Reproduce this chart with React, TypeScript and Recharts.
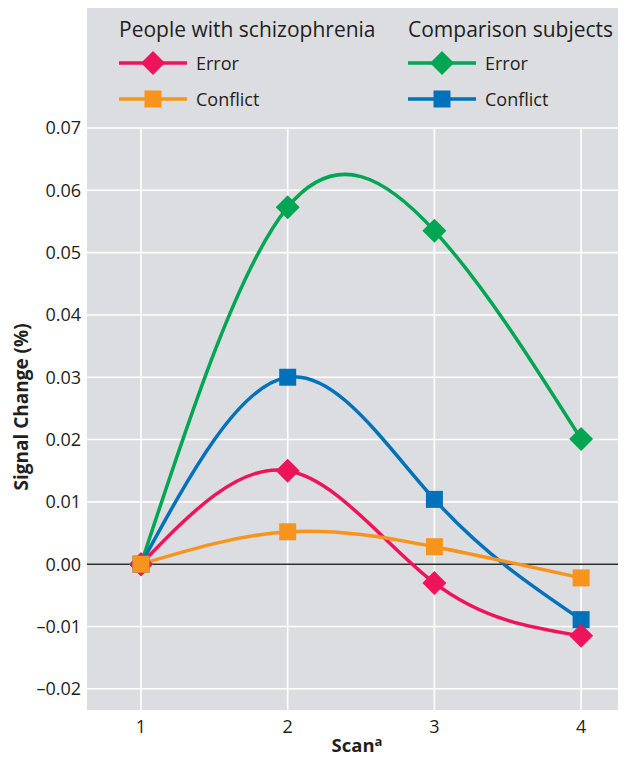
import React from "react";
import { LineChart, Line, XAxis, YAxis, CartesianGrid, ReferenceLine } from "recharts";

const scans = [1, 2, 3, 4];
const schizError = [0, 0.015, -0.003, -0.0115];
const schizConflict = [0, 0.0052, 0.0028, -0.0022];
const compError = [0, 0.0573, 0.0535, 0.0201];
const compConflict = [0, 0.03, 0.0104, -0.0089];
const yTicks = [-0.02, -0.01, 0, 0.01, 0.02, 0.03, 0.04, 0.05, 0.06, 0.07];

const PINK = "#ed145b";
const ORANGE = "#f7941d";
const GREEN = "#00a651";
const BLUE = "#0072bc";
const BG = "#dcdde0";
const INK = "#231f20";
const FONT = "'Open Sans', 'DejaVu Sans', sans-serif";

type Shape = "diamond" | "square";

const series = [
  { key: "compError", name: "Error", group: 1, color: GREEN, shape: "diamond" as Shape, values: compError },
  { key: "compConflict", name: "Conflict", group: 1, color: BLUE, shape: "square" as Shape, values: compConflict },
  { key: "schizError", name: "Error", group: 0, color: PINK, shape: "diamond" as Shape, values: schizError },
  { key: "schizConflict", name: "Conflict", group: 0, color: ORANGE, shape: "square" as Shape, values: schizConflict },
];

const groups = ["People with schizophrenia", "Comparison subjects"];

const data = scans.map((scan, i) => {
  const row: Record<string, number> = { scan };
  series.forEach((s) => (row[s.key] = s.values[i]));
  return row;
});

function Marker({ cx, cy, shape, color }: { cx: number; cy: number; shape: Shape; color: string }) {
  if (shape === "diamond") {
    const r = 12;
    return <polygon points={`${cx},${cy - r} ${cx + r},${cy} ${cx},${cy + r} ${cx - r},${cy}`} fill={color} />;
  }
  const h = 8.5;
  return <rect x={cx - h} y={cy - h} width={h * 2} height={h * 2} fill={color} />;
}

// legend + axis titles drawn over the chart
function Overlay() {
  const cols = [119, 408];
  const rows = [63, 99];
  return (
    <svg width={626} height={757} style={{ position: "absolute", left: 0, top: 0, pointerEvents: "none" }}>
      {groups.map((g, gi) => (
        <text key={g} x={cols[gi]} y={37} fontSize={21} fill={INK} fontFamily={FONT}>
          {g}
        </text>
      ))}
      {series.map((s) => {
        const x0 = cols[s.group];
        const row = s.shape === "diamond" ? rows[0] : rows[1];
        return (
          <g key={s.key}>
            <line x1={x0} x2={x0 + 68} y1={row} y2={row} stroke={s.color} strokeWidth={3.5} />
            <Marker cx={x0 + 34} cy={row} shape={s.shape} color={s.color} />
            <text x={x0 + 77} y={row + 7} fontSize={18} fill={INK} fontFamily={FONT}>
              {s.name}
            </text>
          </g>
        );
      })}
      <text x={357} y={752} textAnchor="middle" fontSize={18.5} fontWeight="bold" fill={INK} fontFamily={FONT}>
        Scan
        <tspan fontSize={13} dy={-6}>a</tspan>
      </text>
      <text
        x={28}
        y={407}
        transform="rotate(-90 28 407)"
        textAnchor="middle"
        fontSize={19}
        fontWeight="bold"
        fill={INK}
        fontFamily={FONT}
      >
        Signal Change (%)
      </text>
    </svg>
  );
}

const fmt = (v: number) => (v < 0 ? "\u2013" + Math.abs(v).toFixed(2) : v.toFixed(2));

export default function App() {
  return (
    <div style={{ position: "relative", width: 626, height: 757, margin: "-8px 0 0 -8px", background: "#fff" }}>
      <div style={{ position: "absolute", left: 87, top: 8, width: 539, height: 702, background: BG }} />
      <div style={{ position: "absolute", left: 0, top: 0 }}>
        <LineChart width={626} height={757} data={data} margin={{ top: 128, right: 0, bottom: 0, left: 0 }}>
          <CartesianGrid stroke="#ffffff" strokeWidth={1.6} horizontalValues={yTicks} verticalValues={scans} />
          <XAxis
            dataKey="scan"
            type="number"
            domain={[0.632, 4.306]}
            ticks={scans}
            allowDataOverflow
            height={47}
            axisLine={false}
            tickLine={false}
            tickMargin={4}
            tick={{ fontSize: 18, fill: INK, fontFamily: FONT }}
          />
          <YAxis
            type="number"
            domain={[-0.0234, 0.07]}
            ticks={yTicks}
            allowDataOverflow
            width={87}
            axisLine={false}
            tickLine={false}
            tickSize={6}
            tickMargin={0}
            tickFormatter={fmt}
            tick={{ fontSize: 18, fill: INK, fontFamily: FONT }}
          />
          <ReferenceLine y={0} stroke="#2b2b2b" strokeWidth={1.5} />
          {series.map((s) => (
            <Line
              key={s.key}
              dataKey={s.key}
              type="natural"
              stroke={s.color}
              strokeWidth={3.5}
              isAnimationActive={false}
              dot={(p: any) => <Marker key={`${s.key}-${p.index}`} cx={p.cx} cy={p.cy} shape={s.shape} color={s.color} />}
              activeDot={false}
            />
          ))}
        </LineChart>
      </div>
      <Overlay />
    </div>
  );
}
